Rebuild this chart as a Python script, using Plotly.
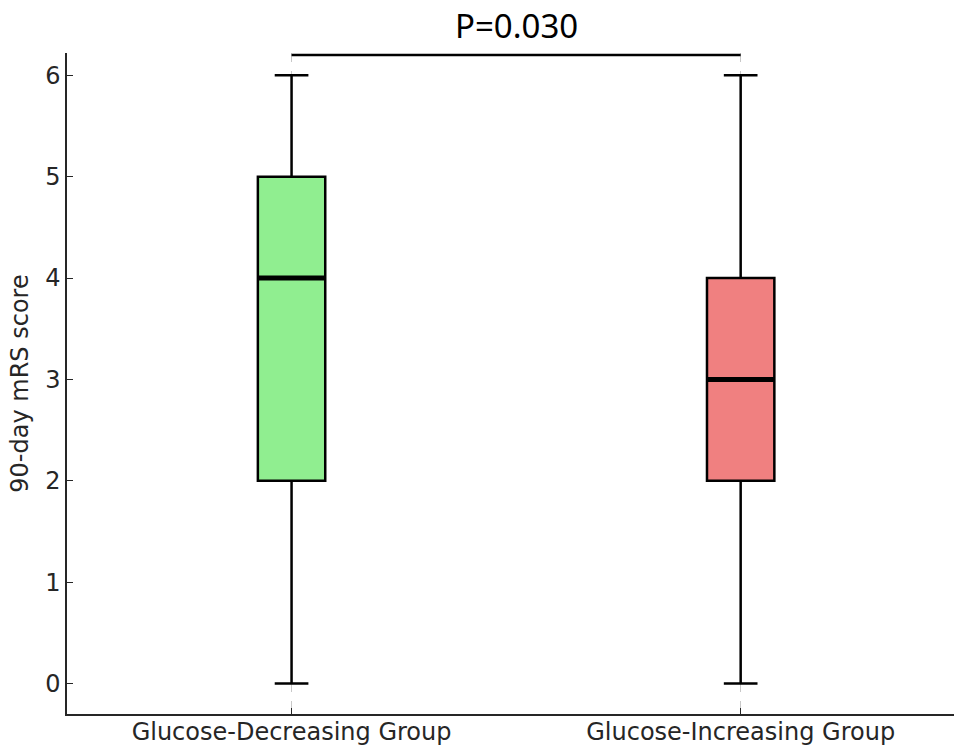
import plotly.graph_objects as go

groups = ["Glucose-Decreasing Group", "Glucose-Increasing Group"]
positions = [1, 2]
q1 = [2, 2]
median = [4, 3]
q3 = [5, 4]
lower = [0, 0]
upper = [6, 6]
colors = ["#90EE90", "#F08080"]
p_text = "P=0.030"
bracket_y = 6.2
y_ticks = [0, 1, 2, 3, 4, 5, 6]

box_w = 0.15

fig = go.Figure()
for i in range(2):
    fig.add_trace(go.Box(
        x=[positions[i]], q1=[q1[i]], median=[median[i]], q3=[q3[i]],
        lowerfence=[lower[i]], upperfence=[upper[i]],
        width=box_w, whiskerwidth=0.5,
        fillcolor=colors[i], line=dict(color="black", width=2.5),
        boxpoints=False, showlegend=False, hoverinfo="skip",
    ))
    # thick median line
    fig.add_trace(go.Scatter(
        x=[positions[i] - box_w / 2, positions[i] + box_w / 2],
        y=[median[i], median[i]], mode="lines",
        line=dict(color="black", width=5), showlegend=False, hoverinfo="skip",
    ))

# significance bracket
fig.add_trace(go.Scatter(
    x=[positions[0], positions[1]], y=[bracket_y, bracket_y], mode="lines",
    line=dict(color="black", width=2.5), showlegend=False, hoverinfo="skip",
    cliponaxis=False,
))

fig.add_annotation(
    x=(positions[0] + positions[1]) / 2, y=1, xref="x", yref="paper",
    yanchor="bottom", yshift=3, text=p_text, showarrow=False,
    font=dict(family="Noto Sans", size=33, color="black"),
)

fig.update_layout(
    width=954, height=745,
    margin=dict(l=67, r=0, t=53, b=31),
    paper_bgcolor="white", plot_bgcolor="white",
    font=dict(family="DejaVu Sans", size=24, color="#262626"),
    xaxis=dict(
        range=[0.5, 2.475], tickmode="array", tickvals=positions, ticktext=groups,
        showgrid=True, gridcolor="#c8c8c8", griddash="dash", gridwidth=1,
        showline=True, linecolor="#262626", linewidth=1.5,
        ticks="inside", ticklen=6, tickcolor="#262626", zeroline=False,
        tickfont=dict(size=24), automargin=False, ticklabelstandoff=-5,
    ),
    yaxis=dict(
        range=[-0.3, 6.22], tickmode="array", tickvals=y_ticks,
        showgrid=False, showline=True, linecolor="#262626", linewidth=1.5,
        ticks="inside", ticklen=6, tickcolor="#262626", zeroline=False,
        title=dict(text="90-day mRS score", font=dict(size=24), standoff=10),
        tickfont=dict(size=24), automargin=False,
    ),
)

fig.write_html(
    "out.html",
    config={"displayModeBar": False},
    post_script="document.body.style.margin='0';document.body.style.overflow='hidden';",
)
